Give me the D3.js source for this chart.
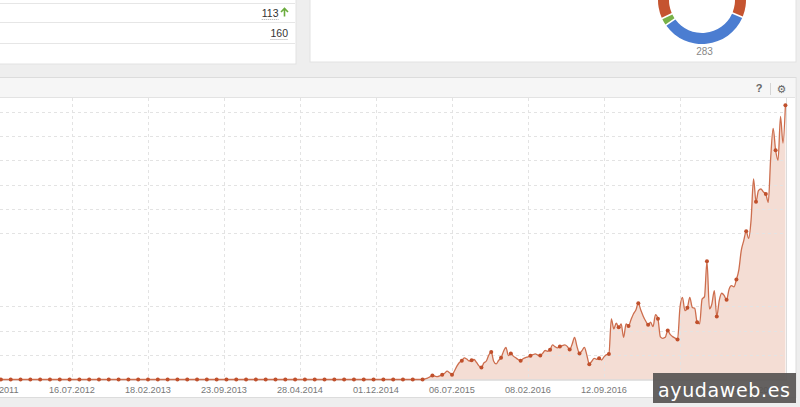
<!DOCTYPE html>
<html>
<head>
<meta charset="utf-8">
<script src="https://cdn.jsdelivr.net/npm/d3@7"></script>
<style>
  body { margin: 0; background: #eeeeee; }
  svg { display: block; font-family: "Liberation Sans", Arial, sans-serif; }
</style>
</head>
<body>
<div id="chart"></div>
<script>
// ---- data ----
const tableValues = [113, 160];
const tableTrend = ["up", null];

const donutLabels = ["blue", "green", "orange"];
const donutValues = [96, 8, 179];
const donutColors = ["#4b7dd1", "#78b148", "#c55430"];
const donutTotal = 283;

const tickLabels = ["12.12.2011", "16.07.2012", "18.02.2013", "23.09.2013", "28.04.2014",
  "01.12.2014", "06.07.2015", "08.02.2016", "12.09.2016", "17.04.2017", "20.11.2017"];

const firstWeek = "26.12.2011";   // weekly points from here
const values = [
  0,0,0,0,0,0,0,0,0,0,0,0,0,0,0,0,0,0,0,0,
  0,0,0,0,0,0,0,0,0,0,0,0,0,0,0,0,0,0,0,0,
  0,0,0,0,0,0,0,0,0,0,0,0,0,0,0,0,0,0,0,0,
  0,0,0,0,0,0,0,0,0,0,0,0,0,0,0,0,0,0,0,0,
  0,0,0,0,0,0,0,0,0,0,0,0,0,0,0,0,0,0,0,0,
  0,0,0,0,0,0,0,0,0,0,0,0,0,0,0,0,0,0,0,0,
  0,0,0,0,0,0,0,0,0,0,0,0,0,0,0,0,0,0,0,0,
  0,0,0,0,0,0,0,0,0,0,0,0,0,0,0,0,0,0,0,0,
  0,0,0,0,0,0,0,0,0,0,0,0,0,
  0.3, 0.6, 1.1, 1.6, 1.4, 1.2, 1.5, 1.9, 2.6, 3.4,
  2.8, 2.0, 3.5, 5.5, 7.0, 7.7, 8.9, 8.4, 7.6, 7.9,
  8.2, 7.0, 5.6, 4.9, 6.8, 7.6, 10.0, 11.3, 7.5, 6.4,
  7.8, 8.9, 11.5, 13.2, 9.8, 10.7, 9.6, 8.9, 8.2, 7.7,
  8.5, 9.0, 9.3, 9.7, 10.2, 10.5, 10.0, 9.8, 10.8, 11.9,
  11.6, 12.2, 14.2, 13.5, 13.0, 13.5, 13.9, 14.2, 13.6, 12.3,
  14.5, 17.3, 13.5, 10.7, 11.8, 13.2, 10.0, 6.3, 7.5, 8.7,
  8.3, 8.7, 8.0, 9.3, 10.2, 10.5, 24.9, 20.8, 23.1, 21.4,
  22.8, 17.3, 22.8, 22.0, 24.5, 26.9, 28.5, 31.3, 28.5, 26.0,
  24.0, 22.5, 23.5, 21.7, 26.6, 24.9, 17.5, 16.9, 17.3, 20.1,
  18.5, 17.6, 17.0, 16.4, 29.6, 33.7, 28.3, 29.4, 33.7, 29.6,
  29.2, 23.5, 22.8, 33.0, 34.0, 48.5, 29.0, 31.0, 36.5, 25.9,
  32.4, 35.4, 34.5, 32.7, 37.0, 38.5, 38.0, 41.0, 45.0, 53.0,
  57.0, 60.8, 57.9, 65.5, 82.3, 73.0, 77.5, 78.2, 77.0, 76.1,
  72.7, 91.1, 103.1, 94.1, 90.0, 108.0, 97.0, 112.6
];
const gridValues = [10, 20, 30, 60, 70, 80, 90, 100, 110];

// ---- setup ----
const width = 800, height = 407;
const parse = d3.utcParse("%d.%m.%Y");

const svg = d3.select("#chart")
  .append("svg")
    .attr("width", width)
    .attr("height", height);

svg.append("rect").attr("width", width).attr("height", height).attr("fill", "#eeeeee");

//top left table panel
const table = svg.append("g");
table.append("rect")
  .attr("x", -2).attr("y", -6).attr("width", 298).attr("height", 70)
  .attr("fill", "#fff").attr("stroke", "#e2e2e2");
[3.5, 22.5, 43.5].forEach(y => {
  table.append("line").attr("x1", 0).attr("x2", 295).attr("y1", y).attr("y2", y)
    .attr("stroke", "#e6e6e6");
});
tableValues.forEach((v, i) => {
  const right = tableTrend[i] ? 278.5 : 288;
  const base = 16.5 + i * 20;
  const t = table.append("text")
    .attr("x", right).attr("y", base)
    .attr("text-anchor", "end")
    .attr("font-size", 10.5)
    .attr("fill", "#333")
    .text(v);
  const w = t.node().getComputedTextLength();
  table.append("line")
    .attr("x1", right - w).attr("x2", right).attr("y1", base + 3).attr("y2", base + 3)
    .attr("stroke", "#aaa").attr("stroke-dasharray", "1,1");
  if (tableTrend[i] === "up") {
    table.append("path")
      .attr("d", `M${right + 6},${base} V${base - 8} M${right + 2.5},${base - 4.5} L${right + 6},${base - 8} L${right + 9.5},${base - 4.5}`)
      .attr("fill", "none").attr("stroke", "#6aab3c").attr("stroke-width", 1.6);
  }
});

//top right donut panel
const donutPanel = svg.append("g");
donutPanel.append("rect")
  .attr("x", 310).attr("y", -6).attr("width", 486).attr("height", 68)
  .attr("fill", "#fff").attr("stroke", "#e2e2e2");

const pieGenerator = d3.pie()
  .sort(null)
  .startAngle(113 * Math.PI / 180)
  .endAngle(113 * Math.PI / 180 + 2 * Math.PI)
  .value(d => d);
const arcGenerator = d3.arc()
  .innerRadius(33)
  .outerRadius(44)
  .padAngle(0.03);
donutPanel.append("g")
  .attr("transform", "translate(702,0)")
  .selectAll("path")
  .data(pieGenerator(donutValues))
  .join("path")
    .attr("d", arcGenerator)
    .attr("fill", (d, i) => donutColors[i]);
donutPanel.append("text")
  .attr("x", 704.5).attr("y", 55)
  .attr("text-anchor", "middle")
  .attr("font-size", 10)
  .attr("fill", "#888")
  .text(donutTotal);

//main chart panel
const panel = svg.append("g");
panel.append("rect")
  .attr("x", -2).attr("y", 77.5).attr("width", 798).attr("height", 320)
  .attr("fill", "#fff").attr("stroke", "#dcdcdc");
panel.append("rect")
  .attr("x", -1).attr("y", 78).attr("width", 796).attr("height", 19)
  .attr("fill", "#f6f6f6");
panel.append("line").attr("x1", 0).attr("x2", 795).attr("y1", 97.5).attr("y2", 97.5)
  .attr("stroke", "#e3e3e3");
panel.append("text")
  .attr("x", 759).attr("y", 92)
  .attr("text-anchor", "middle").attr("font-size", 11).attr("font-weight", "bold")
  .attr("fill", "#666").text("?");
panel.append("line").attr("x1", 770.5).attr("x2", 770.5).attr("y1", 83).attr("y2", 95)
  .attr("stroke", "#d5d5d5");
panel.append("text")
  .attr("x", 781.5).attr("y", 93)
  .attr("text-anchor", "middle").attr("font-size", 11)
  .attr("font-family", "DejaVu Sans")
  .attr("fill", "#666").text("\u2699");

//scales
const tickDates = tickLabels.map(parse);
const xScale = d3.scaleUtc()
  .domain([tickDates[0], tickDates[9]])
  .range([-4, 680]);
const yScale = d3.scaleLinear()
  .domain([0, 110])
  .range([379.5, 111.5]);

const start = parse(firstWeek);
const series = values.map((v, i) => ({ date: d3.utcDay.offset(start, 7 * i), value: v }));

const plotRight = 786.5;

const areaGenerator = d3.area()
  .x(d => xScale(d.date))
  .y0(yScale(0))
  .y1(d => yScale(d.value))
  .curve(d3.curveMonotoneX);
const lineGenerator = d3.line()
  .x(d => xScale(d.date))
  .y(d => yScale(d.value))
  .curve(d3.curveMonotoneX);

panel.append("path")
  .datum(series)
  .attr("d", areaGenerator)
  .attr("fill", "#f4ddd4");

//grid lines
panel.selectAll(".hgrid")
  .data(gridValues)
  .join("line")
    .attr("class", "hgrid")
    .attr("x1", 0).attr("x2", plotRight)
    .attr("y1", d => Math.round(yScale(d)) + 0.5)
    .attr("y2", d => Math.round(yScale(d)) + 0.5)
    .attr("stroke", "#e3e3e3")
    .attr("stroke-dasharray", "3,3");
panel.selectAll(".vgrid")
  .data(tickDates.filter(d => xScale(d) > 0 && xScale(d) < 700))
  .join("line")
    .attr("class", "vgrid")
    .attr("x1", d => Math.round(xScale(d)) + 0.5)
    .attr("x2", d => Math.round(xScale(d)) + 0.5)
    .attr("y1", 98).attr("y2", 379)
    .attr("stroke", "#e3e3e3")
    .attr("stroke-dasharray", "3,3");
panel.append("line")
  .attr("x1", plotRight).attr("x2", plotRight).attr("y1", 98).attr("y2", 380)
  .attr("stroke", "#dcdcdc");
panel.append("line")
  .attr("x1", 0).attr("x2", plotRight).attr("y1", 380).attr("y2", 380)
  .attr("stroke", "#c8c8c8");

//line and dots
panel.append("path")
  .datum(series)
  .attr("d", lineGenerator)
  .attr("fill", "none")
  .attr("stroke", "#cd6e4e")
  .attr("stroke-width", 1.3);
panel.selectAll(".dot")
  .data(series.filter((d, i) => i % 4 === 0))
  .join("circle")
    .attr("class", "dot")
    .attr("cx", d => xScale(d.date))
    .attr("cy", d => yScale(d.value))
    .attr("r", 2)
    .attr("fill", "#c0502c");

//x axis labels
panel.selectAll(".xlabel")
  .data(tickDates)
  .join("text")
    .attr("class", "xlabel")
    .attr("x", d => xScale(d))
    .attr("y", 393)
    .attr("text-anchor", "middle")
    .attr("font-size", 9.2)
    .attr("fill", "#777")
    .text((d, i) => tickLabels[i]);

//watermark
svg.append("rect")
  .attr("x", 653).attr("y", 373).attr("width", 143).attr("height", 30)
  .attr("fill", "#575453").attr("opacity", 0.92);
svg.append("text")
  .attr("x", 658).attr("y", 396.5)
  .attr("font-family", "DejaVu Sans")
  .attr("font-size", 19)
  .attr("textLength", 132)
  .attr("fill", "#fff")
  .text("ayudaweb.es");
</script>
</body>
</html>
